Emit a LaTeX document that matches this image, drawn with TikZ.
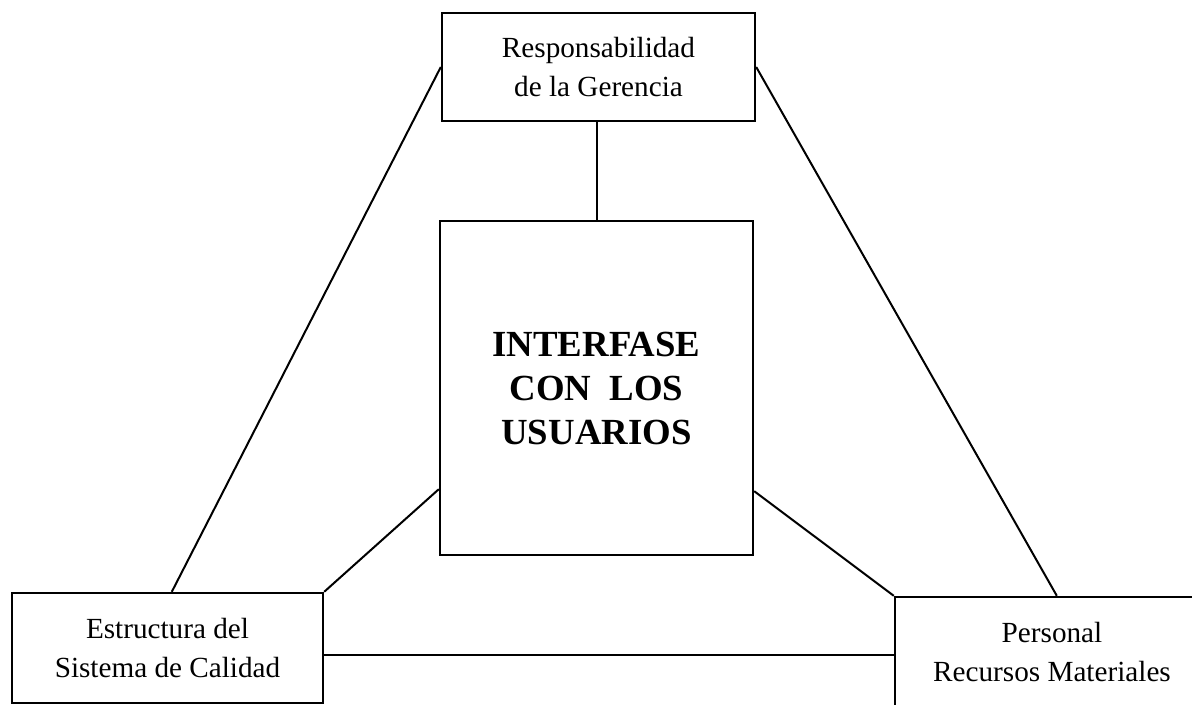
\documentclass[tikz,border=0pt]{standalone}
\usepackage{fontspec}
\setmainfont{Liberation Serif}
\begin{document}
\begin{tikzpicture}[x=0.5pt,y=-0.5pt,
  box/.style={draw,line width=1.2pt,rectangle,inner sep=0pt,align=center,
    font=\fontsize{14.6}{19.5}\selectfont},
  bigbox/.style={box,font=\fontsize{18.4}{22}\selectfont\bfseries},
  link/.style={line width=1pt}]
\useasboundingbox (0,0) rectangle (1192,705);
\begin{scope}
\clip (0,0) rectangle (1192,705);
\node[box,minimum width=156.5pt,minimum height=54pt] (top) at (598.5,67) {Responsabilidad\\de la Gerencia};
\node[bigbox,minimum width=156.5pt,minimum height=167pt] (mid) at (596.5,388) {INTERFASE\\CON\ \ LOS\\USUARIOS};
\node[box,minimum width=155.5pt,minimum height=55pt] (bl) at (167.5,648) {Estructura del\\Sistema de Calidad};
\node[box,minimum width=157pt,minimum height=55pt] (br) at (1052,652) {Personal\\Recursos Materiales};
\end{scope}
\draw[link] (mid.north) -- (mid.north |- top.south);
\draw[link] (top.west) -- ([xshift=80.5pt]bl.north west);
\draw[link] (top.east) -- ([xshift=81.5pt]br.north west);
\draw[link] ([yshift=33.5pt]mid.south west) -- (bl.north east);
\draw[link] ([yshift=32.5pt]mid.south east) -- (br.north west);
\draw[link] ([yshift=-3.5pt]bl.east) -- ([yshift=-3.5pt]bl.east -| br.west);
\end{tikzpicture}
\end{document}
